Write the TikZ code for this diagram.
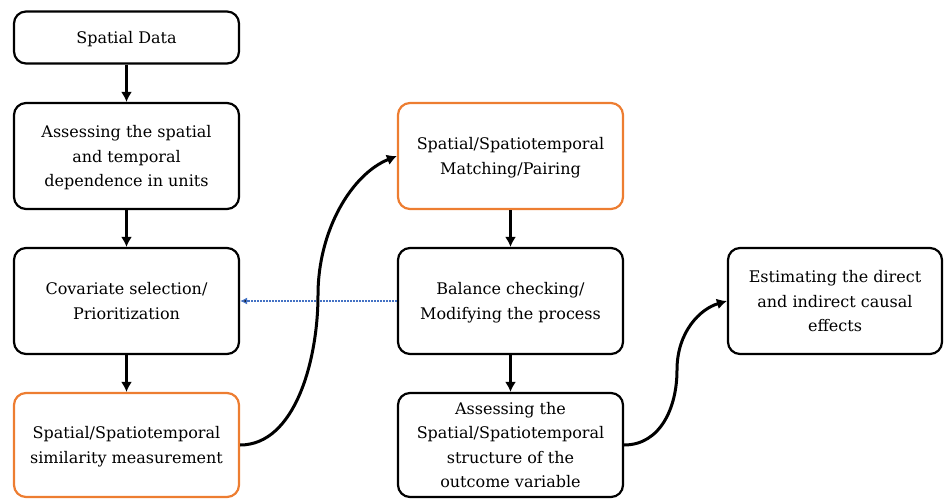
\documentclass[tikz,border=0pt]{standalone}
\usepackage{fontspec}
\setmainfont{DejaVu Serif}
\usetikzlibrary{arrows.meta}
\definecolor{boxorange}{HTML}{ED7D31}
\definecolor{linkblue}{HTML}{4472C4}

\begin{document}
\begin{tikzpicture}[x=1pt,y=-1pt,>={Latex[length=10pt,width=11pt]},
	block/.style={draw, line width=2.2pt, rounded corners=12pt, minimum width=225pt, minimum height=106pt, align=center, text depth=0pt, font=\fontsize{16}{24.5}\selectfont},
	flow/.style={->, line width=3pt},
	feedback/.style={-{Latex[length=7pt,width=7pt]}, draw=linkblue, line width=1.2pt, dash pattern=on 2pt off 1pt}]
	\useasboundingbox (0,0) rectangle (945,500);
	\node [block, minimum height=52pt] (data) at (126.5,37.5) {Spatial Data};
	\node [block] (dependence) at (126.5,156) {Assessing the spatial\\and temporal\\dependence in units};
	\node [block] (covariate) at (126.5,301) {Covariate selection/\\Prioritization};
	\node [block, draw=boxorange, minimum height=104pt] (similarity) at (126.5,445) {Spatial/Spatiotemporal\\similarity measurement};
	\node [block, draw=boxorange] (matching) at (510.5,156) {Spatial/Spatiotemporal\\Matching/Pairing};
	\node [block] (balance) at (510.5,301) {Balance checking/\\Modifying the process};
	\node [block, minimum height=104pt] (structure) at (510.5,445) {Assessing the\\Spatial/Spatiotemporal\\structure of the\\outcome variable};
	\node [block, minimum width=214pt] (effects) at (835,301) {Estimating the direct\\and indirect causal\\effects};
	\coordinate (bend1) at (318,295);
	\coordinate (bend2) at (677,370);
	\path [flow] (data) edge (dependence);
	\path [flow] (dependence) edge (covariate);
	\path [flow] (covariate) edge (similarity);
	\path [flow] (matching) edge (balance);
	\path [flow] (balance) edge (structure);
	\path [feedback] (balance) edge (covariate);
	\draw [flow] (similarity.east) .. controls +(55,0) and +(0,65) .. (bend1) .. controls +(0,-65) and +(-45,18) .. (matching.west);
	\draw [flow] (structure.east) .. controls +(36,0) and +(0,38) .. (bend2) .. controls +(0,-38) and +(-27,8) .. (effects.west);
\end{tikzpicture}
\end{document}
